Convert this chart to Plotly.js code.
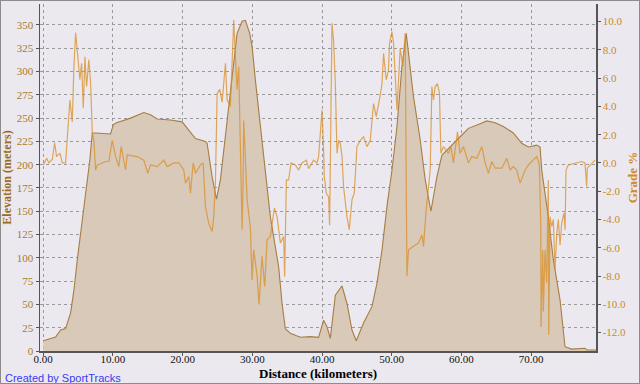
<!DOCTYPE html>
<html>
<head>
<meta charset="utf-8">
<script src="https://cdn.plot.ly/plotly-3.0.1.min.js"></script>
<style>
html,body{margin:0;padding:0;background:#EBE9EF;}
#wrap{position:relative;width:640px;height:384px;}
#chart{position:absolute;left:0;top:0;width:640px;height:384px;}
#frame{position:absolute;left:0;top:0;width:638px;height:382px;border:1px solid #8C8C8C;pointer-events:none;}
</style>
</head>
<body>
<div id="wrap"><div id="chart"></div><div id="frame"></div></div>
<script>
// Elevation profile (distance km, elevation m)
const elevKm = [0.03,1.79,2.51,3.22,3.94,4.41,4.90,5.37,5.85,6.33,6.70,7.05,7.52,9.67,10.06,10.53,12.54,14.44,15.40,16.36,18.27,19.94,20.66,21.85,23.28,23.52,24.24,24.86,25.43,27.82,28.54,29.01,29.63,29.97,30.44,30.92,31.40,32.59,33.78,34.27,34.74,35.46,36.89,38.32,39.51,40.23,40.72,41.19,41.91,42.87,43.58,44.30,44.91,45.96,47.16,47.88,48.60,49.31,50.03,50.75,51.46,52.08,53.12,54.08,54.80,55.62,56.48,57.19,59.81,61.00,62.68,63.64,64.83,66.02,67.45,68.65,69.60,70.80,71.28,71.52,72.46,73.18,74.14,74.86,75.82,77.72,78.01,79.30];
const elevM = [11,15,22.5,24,41,65,98,127,155,180,205,234,234,233,243,245,250,256,253.5,249,248,246,239,228,225,223,187,163,184,341,354,355,341,327,291,259,227,144,90.5,51,24,19,14.7,15.4,14.7,33,26,13.6,60,70,51,22.5,11,30,47.6,72.7,108,155,194,241,305,341,273,227,184,150,187,210,230,239,244,247,245,241,234,223,219,221,219,194,144,98,55,4.6,2,3,1,1];

// Grade profile (distance km, grade %)
const gradeKm = [0.03,0.50,0.83,1.32,1.65,1.93,2.41,2.75,3.22,3.47,3.84,4.18,4.41,4.66,4.90,5.27,5.52,5.76,5.99,6.23,6.56,6.81,7.05,7.28,7.52,7.77,8.48,8.95,9.43,9.91,10.39,10.86,11.20,11.82,12.06,13.50,14.44,15.01,15.40,16.36,17.31,17.79,18.74,19.46,20.17,20.42,20.89,21.13,21.52,21.85,22.56,22.95,23.28,23.75,24.24,24.47,24.71,24.96,25.33,25.67,26.15,26.39,26.86,27.11,27.34,27.58,27.82,28.05,28.54,28.68,28.77,29.26,29.73,29.97,30.20,30.69,30.97,31.40,31.78,32.12,32.59,33.17,33.55,34.03,34.50,34.64,34.89,35.21,35.56,36.17,36.65,37.13,37.75,38.08,38.80,39.28,39.51,39.76,40.00,40.23,40.33,40.62,40.95,41.09,41.19,41.43,41.66,41.91,42.15,42.38,42.62,42.87,43.09,43.58,43.91,44.30,44.63,45.01,45.49,45.96,46.45,46.92,47.39,47.78,48.35,48.60,48.83,49.21,49.54,49.68,50.03,50.26,50.75,51.22,51.60,51.93,52.18,52.41,53.12,53.84,54.33,54.56,54.94,55.52,55.76,55.99,56.23,56.56,56.85,57.05,57.41,58.14,58.48,58.85,59.43,59.81,60.29,61.00,61.49,62.21,62.92,63.40,63.87,64.36,64.83,65.79,66.50,66.98,67.45,67.94,68.41,69.13,69.60,70.32,70.80,71.18,71.38,71.42,71.66,71.75,71.99,72.23,72.46,72.52,72.71,72.95,73.18,73.42,73.67,73.90,74.14,74.38,74.71,74.86,75.00,75.33,76.53,77.25,77.72,77.96,78.05,78.68,79.15];
const gradePct = [-0.14,0.33,0,0.26,1.43,0.45,0.7,0,0,1.6,4.45,2.9,6.8,9.2,7.75,5.9,7.05,3.87,7.5,5.4,7.3,5.6,2.1,1.6,-0.5,-0.14,0,0.1,0.1,1.6,0.45,-0.26,1.15,-0.5,0.57,0.45,0.2,-0.73,-0.14,-0.26,0.2,-0.26,0,0,-0.5,-1.43,-0.97,-2.14,0,-0.73,-0.14,0,-3.1,-4.26,-4.85,-3.8,-1.43,4.9,5.2,4.3,7.05,4.45,4.0,6.6,10.1,7.5,5.2,6.8,-4.73,-1.43,3.0,-2.6,-4.6,-8.3,-6.15,-8.0,-10.0,-6.6,-8.74,-5.44,-5.2,-3.2,-3.8,-5.67,-5.2,-8.04,-1.2,-1.2,0,-0.14,-0.5,0,0.2,-0.4,0.2,0,0.45,2.1,3.75,0.9,-0.97,-2.14,-2.4,-4.4,-0.26,9.87,8.7,5.6,0.68,1.6,1.4,0.45,-1.67,-3.8,-4.73,-2.6,-2.14,1.15,1.6,1.86,1.15,1.6,4.2,3.27,4.8,5.6,7.75,5.87,6.57,8.46,9.28,8.46,3.75,8.1,6.8,9.16,-8.0,-6.15,-5.9,-5.67,-5.1,-5.9,-3.3,-0.5,5.4,4.45,5.4,5.6,4.9,0.68,1.15,0.68,1.15,0,2.2,0.68,1.15,0,0.45,0.33,1.15,0,-0.73,0.1,-0.37,-0.37,0.33,-0.5,-0.26,-0.5,-1.43,-0.5,-0.14,0.2,0.45,-0.14,-4.5,-11.6,-6.15,-10.5,-6.15,-8.5,-1.2,-12.15,-3.8,-4.5,-4.0,-7.56,-5.0,-4.0,-5.8,-4.26,-3.55,-4.73,-0.5,-0.14,0,0.1,0,-1.67,-0.37,0,0.2];

// Tick labels
const xTicks = [0,10,20,30,40,50,60,70];
const xTickText = ["0.00","10.00","20.00","30.00","40.00","50.00","60.00","70.00"];
const yTicks = [0,25,50,75,100,125,150,175,200,225,250,275,300,325,350];
const y2Ticks = [-12,-10,-8,-6,-4,-2,0,2,4,6,8,10];
const y2TickText = ["-12.0","-10.0","-8.0","-6.0","-4.0","-2.0","0.0","2.0","4.0","6.0","8.0","10.0"];

const serif = "Liberation Serif, Times New Roman, serif";

const traces = [
  {
    x: elevKm, y: elevM, type: "scatter", mode: "lines", name: "Elevation",
    fill: "tozeroy", fillcolor: "rgb(216,201,184)",
    line: {color: "rgb(166,126,66)", width: 1.1}, hoverinfo: "skip"
  },
  {
    x: gradeKm, y: gradePct, type: "scatter", mode: "lines", name: "Grade", yaxis: "y2",
    line: {color: "rgba(218,142,40,0.75)", width: 1.2}, hoverinfo: "skip"
  }
];

const layout = {
  width: 640, height: 384,
  margin: {l: 40, r: 44, t: 4, b: 33},
  paper_bgcolor: "#EBE9EF", plot_bgcolor: "#EBE9EF",
  showlegend: false,
  xaxis: {
    range: [-0.45, 79.3], tickmode: "array", tickvals: xTicks, ticktext: xTickText,
    showgrid: true, gridcolor: "#9A9A9A", griddash: "dot", gridwidth: 1,
    zeroline: false, showline: true, linecolor: "#555555", linewidth: 1.5,
    ticks: "outside", ticklen: 3, tickcolor: "#555555", ticklabelstandoff: -6,
    tickfont: {family: serif, size: 11, color: "#111111"}
  },
  yaxis: {
    range: [0, 372.5], tickmode: "array", tickvals: yTicks,
    showgrid: true, gridcolor: "#9A9A9A", griddash: "dot", gridwidth: 1,
    zeroline: false, showline: true, linecolor: "#555555", linewidth: 1.5,
    ticks: "outside", ticklen: 3, tickcolor: "#555555",
    tickfont: {family: serif, size: 11, color: "#A8792E"},
    title: {text: "<b>Elevation (meters)</b>", font: {family: serif, size: 12, color: "#9C6B22"}}
  },
  yaxis2: {
    overlaying: "y", side: "right",
    range: [-13.3, 11.24], tickmode: "array", tickvals: y2Ticks, ticktext: y2TickText,
    showgrid: false, zeroline: false, showline: true, linecolor: "#555555", linewidth: 1.5,
    ticks: "outside", ticklen: 3, tickcolor: "#555555",
    tickfont: {family: serif, size: 11, color: "#C98A2A"},
    title: {text: "<b>Grade %</b>", font: {family: serif, size: 13, color: "#D08A28"}}
  },
  annotations: [
    {
      text: "<b>Distance (kilometers)</b>", xref: "paper", yref: "paper",
      x: (318 - 40) / 556, y: (351 - 373) / 347, xanchor: "center", yanchor: "middle",
      showarrow: false, font: {family: serif, size: 13, color: "#000000"}
    },
    {
      text: "Created by SportTracks", xref: "paper", yref: "paper",
      x: (3 - 40) / 556, y: (351 - 378) / 347, xanchor: "left", yanchor: "middle",
      showarrow: false, font: {family: "Liberation Sans, Arial, sans-serif", size: 11, color: "#3A3AF2"}
    }
  ]
};

Plotly.newPlot("chart", traces, layout, {displayModeBar: false, staticPlot: true});
</script>
</body>
</html>
